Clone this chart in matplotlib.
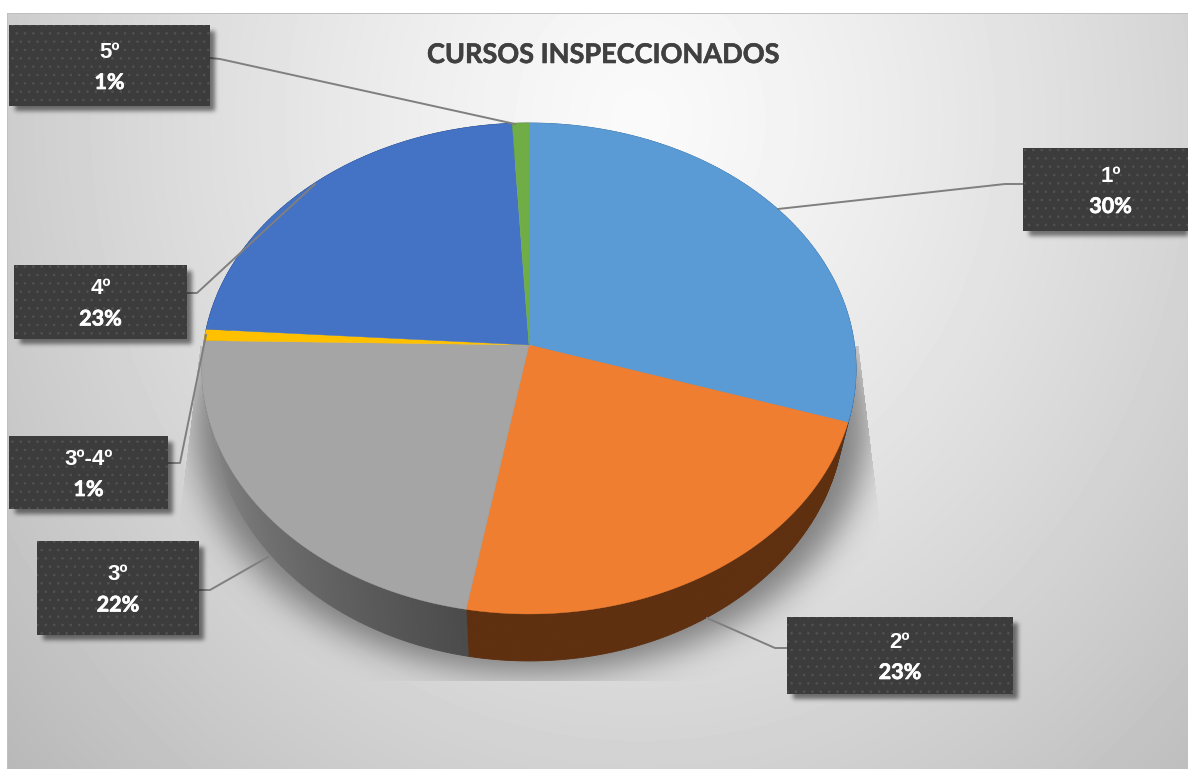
import numpy as np
import matplotlib
matplotlib.use("Agg")
import matplotlib.pyplot as plt
import matplotlib.patheffects as pe
from matplotlib.collections import PolyCollection
from matplotlib.colors import to_rgb
from matplotlib.path import Path
from matplotlib.patches import Polygon, Rectangle

plt.rcParams['font.family'] = ['Lato', 'DejaVu Sans']
plt.rcParams['hatch.linewidth'] = 0.6

# datos
cursos = ['1º', '2º', '3º', '3º-4º', '4º', '5º']
valores = [30.0, 22.8, 22.49, 0.75, 23.06, 0.9]
etiquetas = ['30%', '23%', '22%', '1%', '23%', '1%']

colores = ['#5b9bd5', '#f07e30', '#a5a5a5', '#ffc000', '#4472c4', '#70ad47']
lado_ini = ['#3a6f9f', '#5f3010', '#4b4b4b', '#8f7000', '#2a4a80', '#456d2c']
lado_fin = ['#3a6f9f', '#5f3010', '#969696', '#8f7000', '#2a4a80', '#456d2c']

# cajas: x0, y0, x1, y1 en pixeles
cajas = [(1023, 148, 1198, 231), (787, 617, 1013, 694), (37, 541, 199, 635),
         (9, 436, 168, 509), (14, 265, 187, 339), (9, 25, 210, 106)]
guias = [[(1023, 184), (1005, 184), (778, 209)],
         [(787, 648), (775, 648), (707, 618)],
         [(199, 590), (210, 590), (268, 557)],
         [(168, 463), (180, 463), (206, 335)],
         [(187, 293), (197, 293), (315, 184)],
         [(210, 58), (220, 59), (515, 124)]]

W, H = 1188, 769
CX, CY, RX, RY, K, PROF, ESC = 529, 345, 325.5, 243.2, 0.0957, 42.5, 0.965


def proyectar(ang, r=1.0):
    # circulo en perspectiva, angulo en grados desde arriba en sentido horario
    a = np.radians(ang)
    u, v = r * np.sin(a), r * np.cos(a)
    f = 1 / (1 + K * v)
    return CX + RX * u * f, CY - RY * v * f, f


def desenfocar(m, sigma):
    # con margen para que la FFT no de la vuelta por los bordes
    p = np.pad(m, 80)
    fy = np.fft.fftfreq(p.shape[0])[:, None]
    fx = np.fft.rfftfreq(p.shape[1])[None, :]
    g = np.exp(-2 * (np.pi * sigma) ** 2 * (fx ** 2 + fy ** 2))
    return np.fft.irfft2(np.fft.rfft2(p) * g, s=p.shape)[80:-80, 80:-80]


fig = plt.figure(figsize=(W / 100, H / 100), dpi=100)
ax = fig.add_axes([0, 0, 1, 1])
ax.set_xlim(0, W)
ax.set_ylim(H, 0)
ax.axis('off')

# fondo degradado
yy, xx = np.mgrid[0:H, 0:W]
r = np.sqrt(((xx - 640) / 620) ** 2 + ((yy - 120) / 700) ** 2)
fondo = np.clip(250 - 44 * r ** 1.25, 0, 255) / 255
fondo[:14, :] = 1
fondo[:, :7] = 1
fondo[13, 7:] = 0.75
fondo[14:, 7] = 0.75
ax.imshow(fondo, cmap='gray', vmin=0, vmax=1, extent=(0, W, H, 0), aspect='auto', zorder=0)

# sombra de la tarta
ang = np.linspace(0, 360, 361)
px, py, pf = proyectar(ang)
base = Path(np.column_stack([CX + (px - CX) * 1.03 + 2, py + PROF * pf + 12]))
puntos = np.column_stack([xx.ravel(), yy.ravel()])
mascara = base.contains_points(puntos).reshape(H, W).astype(float)
sombra = desenfocar(mascara, 16)
recorte = Path([(858, 345), (878, 510), (878, 680), (180, 680), (180, 510), (200, 345)])
sombra *= recorte.contains_points(puntos).reshape(H, W)
capa = np.zeros((H, W, 4))
capa[..., :3] = 0.25
capa[..., 3] = sombra * 0.6
ax.imshow(capa, extent=(0, W, H, 0), aspect='auto', zorder=1)

# sombra de las cajas
mascara = np.zeros((H, W))
for x0, y0, x1, y1 in cajas:
    mascara[y0 + 6:y1 + 5, x0 + 6:min(x1 + 5, W)] = 1
capa = np.zeros((H, W, 4))
capa[..., 3] = desenfocar(mascara, 2.2) * 0.5
ax.imshow(capa, extent=(0, W, H, 0), aspect='auto', zorder=5)

# porciones
fracc = np.array(valores) / sum(valores) * 360
fin = np.cumsum(fracc)
ini = fin - fracc

for i in range(len(valores)):
    ts = np.arange(ini[i], fin[i] + 0.5, 0.5)
    ts[-1] = min(ts[-1], fin[i])
    x, y, f = proyectar(ts)
    # el circulo de abajo es algo mas estrecho
    x2 = CX + (x - CX) * ESC
    y2 = y + PROF * f
    quads = [[(x[j], y[j]), (x[j + 1], y[j + 1]), (x2[j + 1], y2[j + 1]), (x2[j], y2[j])]
             for j in range(len(ts) - 1)]
    c0, c1 = np.array(to_rgb(lado_ini[i])), np.array(to_rgb(lado_fin[i]))
    tono = [c0 + (c1 - c0) * j / max(len(quads) - 1, 1) for j in range(len(quads))]
    ax.add_collection(PolyCollection(quads, facecolors=tono, edgecolors=tono, linewidths=0.6, zorder=2))

for i in range(len(valores)):
    ts = np.linspace(ini[i], fin[i], 200)
    x, y, f = proyectar(ts)
    pts = [(CX, CY)] + list(zip(x, y))
    ax.add_patch(Polygon(pts, closed=True, facecolor=colores[i], edgecolor=colores[i], linewidth=0.3, zorder=3))

# guias y etiquetas
for guia in guias:
    gx, gy = zip(*guia)
    ax.plot(gx, gy, color='#7f7f7f', lw=1.4, zorder=4, solid_joinstyle='round')

for curso, etq, (x0, y0, x1, y1) in zip(cursos, etiquetas, cajas):
    ax.add_patch(Rectangle((x0, y0), x1 - x0, y1 - y0, facecolor='#3c3c3c', edgecolor='#525252',
                           linewidth=0, hatch='..', zorder=6))
    xm, ym = (x0 + x1) / 2, (y0 + y1) / 2
    ax.text(xm, ym - 13, curso, color='white', fontsize=16, fontweight='bold', family=['Liberation Sans', 'DejaVu Sans'],
            ha='center', va='center', zorder=7)
    ax.text(xm, ym + 17, etq, color='white', fontsize=15.5, fontweight='bold', ha='center', va='center', zorder=7,
            path_effects=[pe.withStroke(linewidth=0.5, foreground='white')])

ax.text(603, 55, 'CURSOS INSPECCIONADOS', color='#404040', fontsize=19.5, fontweight='bold',
        ha='center', va='center', zorder=7, path_effects=[pe.withStroke(linewidth=0.4, foreground='#404040')])

fig.savefig('out.png', dpi=100)
